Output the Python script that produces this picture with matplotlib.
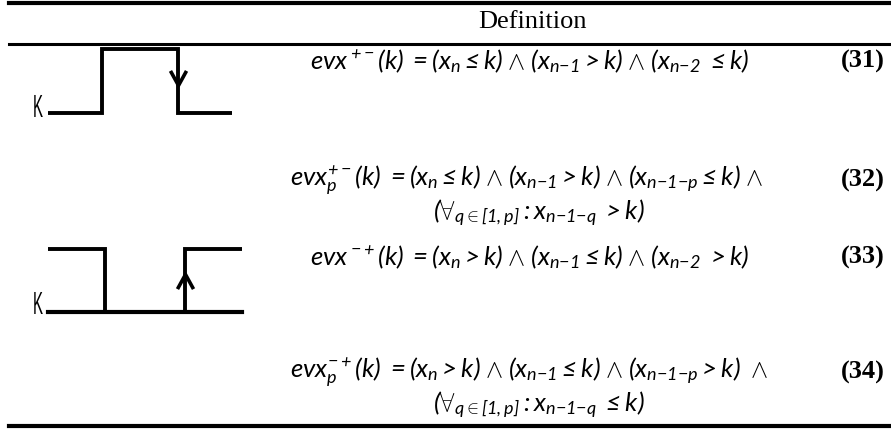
import matplotlib
matplotlib.use("Agg")
import matplotlib.pyplot as plt
from matplotlib.lines import Line2D
from matplotlib.path import Path
from matplotlib.patches import PathPatch
from matplotlib.textpath import TextPath
from matplotlib.font_manager import FontProperties
from matplotlib.transforms import Affine2D

W, H = 891, 430

# header and equation data
header = "Definition"
eq_numbers = ["31", "32", "33", "34"]
formulas = [
    r"$evx\,{}^{+-}(k)\;{=}(x_n \leq k)\;{\wedge}\;(x_{n{-}1} > k)\;{\wedge}\;(x_{n{-}2}\;\leq k)$",
    r"$evx_p^{+-}(k)\;{=}(x_n \leq k)\;{\wedge}\;(x_{n{-}1} > k)\;{\wedge}\;(x_{n{-}1{-}p} \leq k)\;{\wedge}$",
    r"$evx\,{}^{-+}(k)\;{=}(x_n > k)\;{\wedge}\;(x_{n{-}1} \leq k)\;{\wedge}\;(x_{n{-}2}\;> k)$",
    r"$evx_p^{-+}(k)\;{=}(x_n > k)\;{\wedge}\;(x_{n{-}1} \leq k)\;{\wedge}\;(x_{n{-}1{-}p} > k)\;\;{\wedge}$",
]
continuations = [
    None,
    r"$(\forall_{q{\in}[1,p]}{:}x_{n{-}1{-}q}\;> k)$",
    None,
    r"$(\forall_{q{\in}[1,p]}{:}x_{n{-}1{-}q}\;\leq k)$",
]

# waveforms: signal level relative to threshold K (1 = above, 0 = at/below)
time_edges = [0, 1, 2.4, 3.4]
wave_fall = [0, 1, 0]
wave_rise = [1, 0, 1]

plt.rcParams["mathtext.fontset"] = "custom"
plt.rcParams["mathtext.it"] = "Lato:italic"
plt.rcParams["mathtext.rm"] = "Lato:italic"
plt.rcParams["mathtext.bf"] = "Lato:bold"
plt.rcParams["mathtext.sf"] = "Lato"


def fx(x):
    return x / W


def fy(y):
    return 1 - y / H


fig = plt.figure(figsize=(W / 100, H / 100), dpi=100)
fig.patch.set_facecolor("white")

# table rules
for y, lw in [(3, 3.0), (43.5, 2.2), (426, 3.0)]:
    fig.add_artist(Line2D([fx(9), 1], [fy(y), fy(y)], color="black",
                          linewidth=lw, transform=fig.transFigure))

fig.text(fx(532), fy(22), header, ha="center", va="center",
         fontsize=19, family="Liberation Serif")

# formulas
rows_y = [61, 180, 257, 372]
rows_x = [310, 290, 310, 290]
for f, num, cont, x, y in zip(formulas, eq_numbers, continuations, rows_x, rows_y):
    fig.text(fx(x), fy(y), f, ha="left", va="center", fontsize=18.5)
    fig.text(fx(885), fy(y), "(" + num + ")", ha="right", va="center",
             fontsize=19, family="Liberation Serif", fontweight="bold")
    if cont:
        fig.text(fx(433), fy(y + 33), cont, ha="left", va="center", fontsize=18.5)

# chevron markers for arrow heads (tip at the data point)
chev_down = Path([(-0.55, 1), (0, 0), (0.55, 1)], [Path.MOVETO, Path.LINETO, Path.LINETO])
chev_up = Path([(-0.55, -1), (0, 0), (0.55, -1)], [Path.MOVETO, Path.LINETO, Path.LINETO])


def draw_wave(left, right, top, bottom, levels, marker, arrow_y, full_base):
    ax = fig.add_axes([fx(left), fy(bottom), fx(right - left), (bottom - top) / H])
    ax.set_xlim(time_edges[0], time_edges[-1])
    ax.set_ylim(0, 1)
    ax.axis("off")
    ax.stairs(levels, time_edges, baseline=None, color="black",
              linewidth=2.8, clip_on=False)
    if full_base:
        ax.axhline(0, color="black", linewidth=3.0, clip_on=False)
    ax.plot([time_edges[2]], [arrow_y], marker=marker, markersize=21,
            markerfacecolor="none", markeredgecolor="black",
            markeredgewidth=2.6, clip_on=False)
    return ax


draw_wave(48, 232, 49, 113, wave_fall, chev_down, 0.44, False)
draw_wave(48, 242, 249, 312, wave_rise, chev_up, 0.6, True)

# narrow "K" labels
kpath = TextPath((0, 0), "K", size=20, prop=FontProperties(family="Liberation Sans"))
for base in [117, 314]:
    tr = Affine2D().scale(0.75, 1.6).translate(33, H - base)
    fig.add_artist(PathPatch(kpath, transform=tr, color="black", linewidth=0))

fig.savefig("out.png", dpi=100)
